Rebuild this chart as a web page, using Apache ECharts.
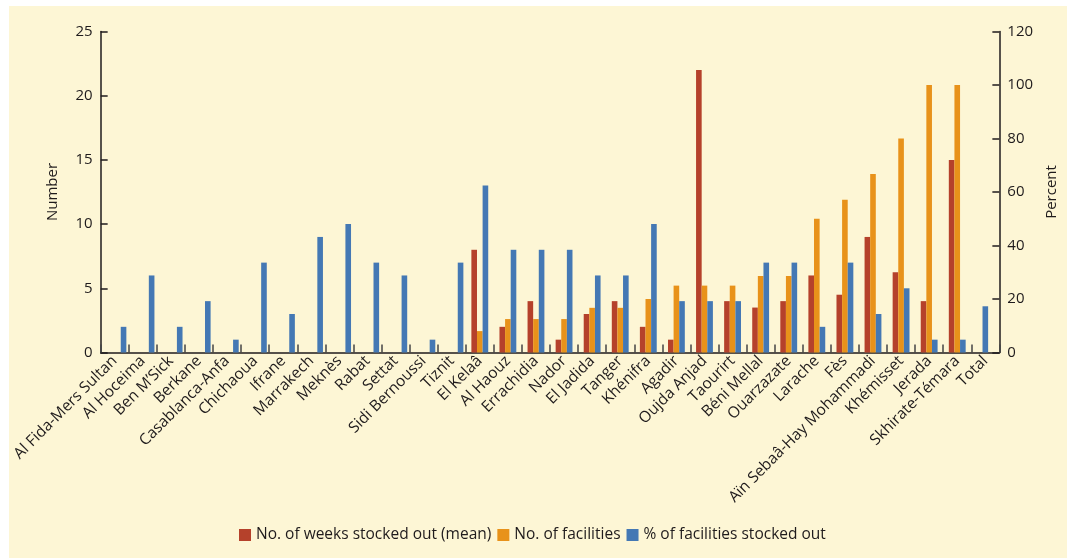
<!DOCTYPE html>
<html>
<head>
<meta charset="utf-8">
<script src="https://cdn.jsdelivr.net/npm/echarts@6/dist/echarts.min.js"></script>
<style>
  html, body { margin: 0; padding: 0; background: #ffffff; }
  #wrap { position: absolute; left: 9px; top: 6px; width: 1058px; height: 552px; background: #FDF6D5; }
  #chart { width: 1058px; height: 552px; }
</style>
</head>
<body>
<div id="wrap"><div id="chart"></div></div>
<script>
// ---- data ----
const categories = ['Al Fida-Mers Sultan','Al Hoceima','Ben M\u2019Sick','Berkane','Casablanca-Anfa','Chichaoua','Ifrane','Marrakech','Meknès','Rabat','Settat','Sidi Bernoussi','Tiznit','El Kelaâ','Al Haouz','Errachidia','Nador','El Jadida','Tanger','Khénifra','Agadir','Oujda Anjad','Taourirt','Béni Mellal','Ouarzazate','Larache','Fès','Aïn Sebaâ-Hay Mohammadi','Khémisset','Jerada','Skhirate-Témara','Total'];
// red bars (left axis, Number)
const weeksStockedOut = [null,null,null,null,null,null,null,null,null,null,null,null,null,8,2,4,1,3,4,2,1,22,4,3.5,4,6,4.5,9,6.25,4,15,null];
// orange bars (right axis, Percent)
const orangeValues = [null,null,null,null,null,null,null,null,null,null,null,null,null,8,12.5,12.5,12.5,16.7,16.7,20,25,25,25,28.6,28.6,50,57.1,66.7,80,100,100,null];
// blue bars (left axis, Number)
const blueValues = [2,6,2,4,1,7,3,9,10,7,6,1,7,13,8,8,8,6,6,10,4,4,4,7,7,2,7,3,5,1,1,3.6];
const legendNames = ['No. of weeks stocked out (mean)','No. of facilities','% of facilities stocked out'];
const leftTicks = {min: 0, max: 25, interval: 5};
const rightTicks = {min: 0, max: 120, interval: 20};

const RED = '#B5412B', ORANGE = '#E8921A', BLUE = '#4478B4', INK = '#1F1B1C';
const FONT = 'Open Sans';
const lastIdx = categories.length - 1;

// blue in full groups, blue alone, blue "Total"
const blueGrouped = blueValues.map((v, i) => (weeksStockedOut[i] != null ? v : null));
const blueAlone = blueValues.map((v, i) => (weeksStockedOut[i] == null && i !== lastIdx ? v : null));
const blueTotal = blueValues.map((v, i) => (i === lastIdx ? v : null));

const hiddenX = () => ({type: 'category', data: categories, show: false, gridIndex: 0});

const option = {
  animation: false,
  textStyle: {fontFamily: FONT},
  grid: {left: 89, top: 25.5, width: 908, height: 321, containLabel: false},
  legend: {
    data: legendNames,
    bottom: 10, left: 225,
    itemWidth: 12, itemHeight: 12, itemGap: 6,
    icon: 'rect',
    textStyle: {fontFamily: FONT, fontSize: 15.5, color: INK}
  },
  xAxis: [
    {
      type: 'category', data: categories, boundaryGap: true,
      axisLine: {show: true, lineStyle: {color: INK, width: 1.5}},
      axisTick: {show: true, inside: true, length: 8, lineStyle: {color: '#444', width: 1.5}},
      axisLabel: {rotate: 45, fontSize: 15.5, color: INK, margin: 6, interval: 0, fontFamily: FONT}
    },
    hiddenX(),
    hiddenX()
  ],
  yAxis: [
    {
      type: 'value', position: 'left', ...leftTicks,
      name: 'Number', nameLocation: 'middle', nameGap: 40, nameRotate: 90,
      nameTextStyle: {fontSize: 15, color: INK, fontFamily: FONT},
      axisLine: {show: true, lineStyle: {color: INK, width: 1.5}},
      axisTick: {show: true, inside: true, length: 7, lineStyle: {color: INK, width: 1.5}},
      axisLabel: {fontSize: 15, color: INK, margin: 8, fontFamily: FONT},
      splitLine: {show: false}
    },
    {
      type: 'value', position: 'right', ...rightTicks,
      name: 'Percent', nameLocation: 'middle', nameGap: 42, nameRotate: 90,
      nameTextStyle: {fontSize: 15, color: INK, fontFamily: FONT},
      axisLine: {show: true, lineStyle: {color: INK, width: 1.5}},
      axisTick: {show: true, inside: true, length: 7, lineStyle: {color: INK, width: 1.5}},
      axisLabel: {fontSize: 15, color: INK, margin: 8, fontFamily: FONT},
      splitLine: {show: false}
    }
  ],
  series: [
    {name: legendNames[0], type: 'bar', xAxisIndex: 0, yAxisIndex: 0, data: weeksStockedOut,
     barWidth: '20%', barGap: '0%', itemStyle: {color: RED}},
    {name: legendNames[1], type: 'bar', xAxisIndex: 0, yAxisIndex: 1, data: orangeValues,
     barWidth: '20%', barGap: '0%', itemStyle: {color: ORANGE}},
    {name: legendNames[2], type: 'bar', xAxisIndex: 0, yAxisIndex: 0, data: blueGrouped,
     barWidth: '20%', barGap: '0%', itemStyle: {color: BLUE}},
    // empty slot so lone blue bars sit right of centre, as in the reference
    {name: '_spacer', type: 'bar', xAxisIndex: 1, yAxisIndex: 0, data: blueAlone.map(() => null),
     barWidth: '20%', barGap: '215%', itemStyle: {color: 'transparent'}, silent: true},
    {name: legendNames[2] + ' ', type: 'bar', xAxisIndex: 1, yAxisIndex: 0, data: blueAlone,
     barWidth: '20%', barGap: '215%', itemStyle: {color: BLUE}},
    {name: 'Total ', type: 'bar', xAxisIndex: 2, yAxisIndex: 0, data: blueTotal,
     barWidth: '20%', itemStyle: {color: BLUE}}
  ]
};

const chart = echarts.init(document.getElementById('chart'), null, {renderer: 'canvas'});
chart.setOption(option);
</script>
</body>
</html>
